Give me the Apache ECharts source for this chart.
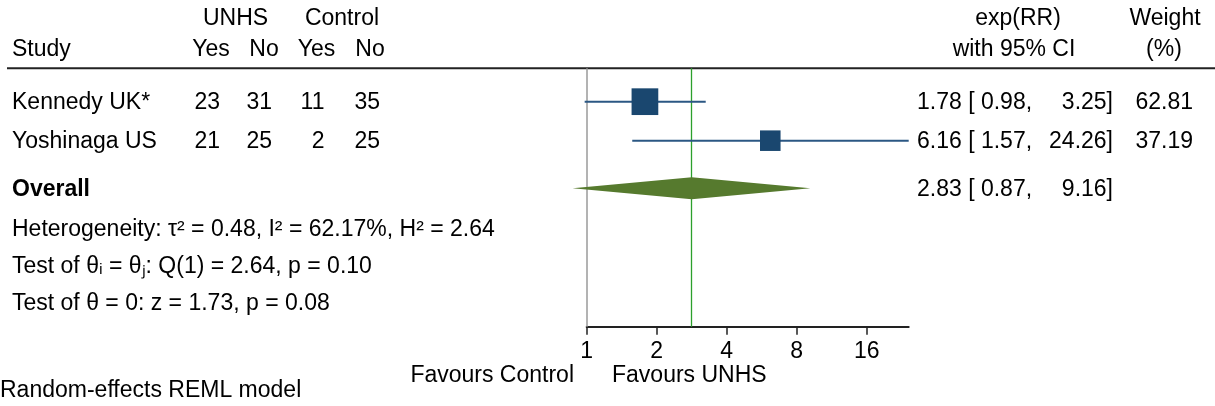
<!DOCTYPE html>
<html><head><meta charset="utf-8">
<script src="https://cdn.jsdelivr.net/npm/echarts@6/dist/echarts.min.js"></script>
<style>html,body{margin:0;padding:0;background:#fff}#c{width:1215px;height:406px}</style>
</head><body><div id="c"></div>
<script>
// ---- data ----
const studies = ['Kennedy UK*', 'Yoshinaga US'];
const unhsYes = [23, 21];
const unhsNo = [31, 25];
const ctrlYes = [11, 2];
const ctrlNo = [35, 25];
const rr = [1.78, 6.16];
const ciLow = [0.98, 1.57];
const ciHigh = [3.25, 24.26];
const weights = [62.81, 37.19];
const overallRR = 2.83;
const overallLow = 0.87;
const overallHigh = 9.16;
const xTicks = [1, 2, 4, 8, 16];
const tau2 = '0.48', i2 = '62.17', h2 = '2.64';
const qStat = '2.64', qDf = 1, qP = '0.10';
const zStat = '1.73', zP = '0.08';

// ---- layout (pixels / row units) ----
const FONT = '"Liberation Sans", Arial, Helvetica, sans-serif';
const FS = 23;
const studyRows = [0.856, 1.856];
const overallRow = 3.077;
const statRows = [4.12, 5.07, 6.02];
const xMax = Math.max(...ciHigh);

const chart = echarts.init(document.getElementById('c'), null, {renderer: 'canvas'});

const ciData = studies.map((s, i) => [ciLow[i], ciHigh[i], studyRows[i]]);
const sqData = studies.map((s, i) => [rr[i], studyRows[i], weights[i]]);

chart.setOption({
  animation: false,
  grid: {left: 586.7, right: 1215 - 908.7, top: 68.3, bottom: 406 - 326.7, containLabel: false},
  xAxis: {
    type: 'log', logBase: 2, min: 1, max: xMax, position: 'bottom',
    axisLine: {show: true, onZero: false, lineStyle: {color: '#222', width: 2}},
    axisTick: {show: true, length: 8, lineStyle: {color: '#222', width: 1.5}, customValues: xTicks},
    axisLabel: {color: '#000', fontSize: FS, fontFamily: FONT, margin: 13, customValues: xTicks,
      formatter: v => String(Math.round(v))},
    splitLine: {show: false}, minorTick: {show: false}
  },
  yAxis: {type: 'value', min: 0, max: 6.626, inverse: true, show: false},
  series: [
    {
      type: 'custom', clip: false, z: 2,
      data: ciData,
      encode: {x: [0, 1], y: 2},
      renderItem: (params, api) => {
        const a = api.coord([api.value(0), api.value(2)]);
        const b = api.coord([api.value(1), api.value(2)]);
        return {type: 'line', shape: {x1: a[0], y1: a[1], x2: b[0], y2: b[1]},
          style: {stroke: '#2b5783', lineWidth: 2}};
      },
      markLine: {
        silent: true, symbol: 'none', label: {show: false}, z: 1,
        data: [
          {xAxis: 1, lineStyle: {color: '#9a9a9a', width: 1.5, type: 'solid'}},
          {xAxis: overallRR, lineStyle: {color: '#2ca02c', width: 1.3, type: 'solid'}}
        ]
      }
    },
    {
      type: 'scatter', z: 3, symbol: 'rect',
      data: sqData,
      symbolSize: v => 3.37 * Math.sqrt(v[2]),
      itemStyle: {color: '#1a476f', opacity: 1}
    },
    {
      type: 'custom', clip: false, z: 3,
      data: [[overallLow, overallRR, overallHigh, overallRow]],
      encode: {x: [0, 1, 2], y: 3},
      renderItem: (params, api) => {
        const row = api.value(3);
        const l = api.coord([api.value(0), row]);
        const m = api.coord([api.value(1), row]);
        const r = api.coord([api.value(2), row]);
        const h = 11;
        return {type: 'polygon', shape: {points: [[l[0], l[1]], [m[0], m[1] - h], [r[0], r[1]], [m[0], m[1] + h]]},
          style: {fill: '#567a2e'}};
      }
    }
  ]
});

const py = r => chart.convertToPixel({yAxisIndex: 0}, r) + 1;
const T = (text, x, y, align, bold) => ({
  type: 'text', x: x, y: y, silent: true,
  style: {text: String(text), fill: '#000', font: (bold ? 'bold ' : '') + FS + 'px ' + FONT,
    textAlign: align || 'left', textVerticalAlign: 'middle'}
});
const g = [];
// header
g.push(T('UNHS', 235.5, 19, 'center'));
g.push(T('Control', 342, 19, 'center'));
g.push(T('Study', 12, 49.5, 'left'));
g.push(T('Yes', 211, 49.5, 'center'));
g.push(T('No', 264, 49.5, 'center'));
g.push(T('Yes', 316.5, 49.5, 'center'));
g.push(T('No', 370, 49.5, 'center'));
g.push(T('exp(RR)', 1018, 19, 'center'));
g.push(T('with 95% CI', 1014, 49.5, 'center'));
g.push(T('Weight', 1165, 19, 'center'));
g.push(T('(%)', 1164, 49.5, 'center'));
g.push({type: 'line', silent: true, shape: {x1: 7, y1: 68.3, x2: 1215, y2: 68.3}, style: {stroke: '#222', lineWidth: 2}});
// study rows
const colRight = [220, 272, 324.5, 380];
studies.forEach((s, i) => {
  const y = py(studyRows[i]);
  g.push(T(s, 12, y, 'left'));
  [unhsYes[i], unhsNo[i], ctrlYes[i], ctrlNo[i]].forEach((v, j) => g.push(T(v, colRight[j], y, 'right')));
  g.push(T(rr[i].toFixed(2) + ' [ ' + ciLow[i].toFixed(2) + ',', 917, y, 'left'));
  g.push(T(ciHigh[i].toFixed(2) + ']', 1113, y, 'right'));
  g.push(T(weights[i].toFixed(2), 1193, y, 'right'));
});
const yo = py(overallRow);
g.push(T('Overall', 12, yo, 'left', true));
g.push(T(overallRR.toFixed(2) + ' [ ' + overallLow.toFixed(2) + ',', 917, yo, 'left'));
g.push(T(overallHigh.toFixed(2) + ']', 1113, yo, 'right'));
// stats
const statText = [
  'Heterogeneity: \u03c4\u00b2 = ' + tau2 + ', I\u00b2 = ' + i2 + '%, H\u00b2 = ' + h2,
  'Test of \u03b8\u1d62 = \u03b8\u2c7c: Q(' + qDf + ') = ' + qStat + ', p = ' + qP,
  'Test of \u03b8 = 0: z = ' + zStat + ', p = ' + zP
];
statText.forEach((t, i) => g.push(T(t, 12, py(statRows[i]), 'left')));
// bottom
g.push(T('Favours Control', 574, 376, 'right'));
g.push(T('Favours UNHS', 612, 376, 'left'));
g.push(T('Random-effects REML model', 0, 391, 'left'));

chart.setOption({graphic: {elements: g}});
</script></body></html>
